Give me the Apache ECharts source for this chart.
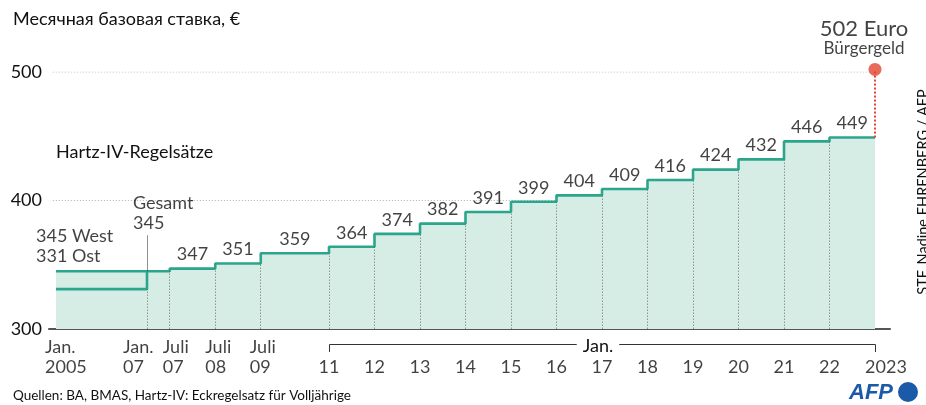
<!DOCTYPE html>
<html><head><meta charset="utf-8">
<script src="https://cdn.jsdelivr.net/npm/echarts@6/dist/echarts.min.js"></script>
<style>html,body{margin:0;padding:0;background:#fff}#c{width:926px;height:405px}</style>
</head><body><div id="c"></div>
<script>
// ---------- data ----------
const stepMonths = ['2005-01','2007-01','2007-07','2008-07','2009-07','2011-01','2012-01','2013-01','2014-01','2015-01','2016-01','2017-01','2018-01','2019-01','2020-01','2021-01','2022-01'];
const rates = [345,345,347,351,359,364,374,382,391,399,404,409,416,424,432,446,449];
const endMonth = '2023-01';
const ostStartMonth = '2005-01';
const ostRate = 331;
const buergergeldMonth = '2023-01';
const buergergeld = 502;
const periodTicks = ['2005-01','2007-01','2007-07','2008-07','2009-07'];
const periodLabels = ['Jan.\n2005','Jan.\n07','Juli\n07','Juli\n08','Juli\n09'];
const yearTicks = ['2011-01','2012-01','2013-01','2014-01','2015-01','2016-01','2017-01','2018-01','2019-01','2020-01','2021-01','2022-01','2023-01'];
const yearLabels = ['11','12','13','14','15','16','17','18','19','20','21','22','2023'];
const yTicks = [300, 400, 500];
const firstLabel = '345 West\n331 Ost';
const gesamtLabel = 'Gesamt\n345';
const bgLabel = ['502 Euro', 'Bürgergeld'];

// ---------- style ----------
const FONT = 'Lato, "Noto Sans", sans-serif';
const TXT = '#111';
const LINE = '#2ba58b';
const FILL = '#d6ede6';
const GRIDC = '#9fb6c6';
const RED = '#e2452f';
const X_MIN = 2004.8462, X_MAX = 2023.3297;
const GRID_START = 2004.93;
const LEADER_TOP = 373;
const periodShift = [-11, -24, -7, -10, -11];

const toYear = s => { const [y, m] = s.split('-').map(Number); return y + (m - 1) / 12; };
const xs = stepMonths.map(toYear);
const xEnd = toYear(endMonth);
const xBound = xs.concat([xEnd]);
const yMin = yTicks[0], yMax = yTicks[yTicks.length - 1];

const mainData = xs.map((x, i) => [x, rates[i]]).concat([[xEnd, rates[rates.length - 1]]]);
const ostData = [[toYear(ostStartMonth), ostRate], [xs[1], rates[1]]];

const dotStyle = { color: '#444', width: 1, type: [1.5, 1.5] };
const vLines = [];
for (let i = 1; i < xs.length; i++) {
  let low = Math.min(rates[i - 1], rates[i]);
  if (i === 1) low = Math.min(low, ostRate);
  vLines.push([{ coord: [xs[i], yMin], lineStyle: dotStyle }, { coord: [xs[i], low] }]);
}
vLines.push([{ coord: [xs[1], rates[1]], lineStyle: { color: '#222', width: 1, type: 'solid' } }, { coord: [xs[1], LEADER_TOP] }]);

const valueLabelData = [];
for (let i = 2; i < xs.length; i++) {
  valueLabelData.push({ value: [(xBound[i] + xBound[i + 1]) / 2, rates[i]], name: String(rates[i]) });
}

const xLabelData = [];
periodTicks.forEach((t, i) => xLabelData.push({
  value: [toYear(t), yMin],
  label: { formatter: periodLabels[i], align: 'left', offset: [periodShift[i], 0] }
}));
yearTicks.forEach((t, i) => xLabelData.push({
  value: [toYear(t), yMin],
  label: { formatter: '\n' + yearLabels[i], align: 'center', offset: [i === yearTicks.length - 1 ? 11 : 0, 0] }
}));

const FS = 18;
const txt = { color: TXT, fontFamily: FONT, fontSize: FS };

const chart = echarts.init(document.getElementById('c'), null, { renderer: 'canvas' });
const option = {
  animation: false,
  backgroundColor: '#fff',
  grid: { left: 49, right: 36, top: 72, bottom: 76, containLabel: false, outerBoundsMode: 'none' },
  xAxis: {
    type: 'value', min: X_MIN, max: X_MAX,
    axisLine: { show: true, onZero: false, lineStyle: { color: '#555', width: 2 } },
    axisTick: { show: false }, axisLabel: { show: false }, splitLine: { show: false }
  },
  yAxis: {
    type: 'value', min: yMin, max: yMax, interval: 100,
    axisLine: { show: false }, axisTick: { show: false }, splitLine: { show: false },
    axisLabel: { color: TXT, fontFamily: FONT, fontSize: FS, margin: 7 }
  },
  series: [
    ...yTicks.slice(1).map(v => ({
      type: 'line', z: 1, silent: true, symbol: 'none',
      data: [[GRID_START, v], [xEnd, v]],
      lineStyle: { color: GRIDC, width: 1, type: [1, 2] }
    })),
    {
      type: 'line', z: 3, step: 'end', symbol: 'none', silent: true,
      data: mainData,
      lineStyle: { color: LINE, width: 2.6 },
      areaStyle: { color: FILL, opacity: 1, origin: 'start' }
    },
    {
      type: 'line', z: 4, symbol: 'none', silent: true, step: 'end',
      data: ostData,
      lineStyle: { color: LINE, width: 2.6 }
    },
    // dotted drop lines and leader (own series so they sit above the area)
    {
      type: 'lines', z: 5, silent: true, coordinateSystem: 'cartesian2d',
      data: vLines.map(l => ({ coords: [l[0].coord, l[1].coord], lineStyle: l[0].lineStyle }))
    },
    // red connector
    {
      type: 'lines', z: 5, silent: true, coordinateSystem: 'cartesian2d',
      data: [{ coords: [[xEnd, rates[rates.length - 1]], [toYear(buergergeldMonth), buergergeld]] }],
      lineStyle: { color: RED, width: 2, type: [2, 2], opacity: 1 }
    },
    {
      type: 'scatter', z: 6, silent: true, clip: false,
      symbolSize: 13, itemStyle: { color: RED },
      data: [[toYear(buergergeldMonth), buergergeld]],
      label: {
        show: true, position: 'top', distance: 5, offset: [-11, 0], align: 'center',
        formatter: '{a|' + bgLabel[0] + '}\n{b|' + bgLabel[1] + '}',
        rich: {
          a: { fontFamily: FONT, fontSize: 22, color: TXT, lineHeight: 22, align: 'center' },
          b: { fontFamily: FONT, fontSize: 17, color: TXT, lineHeight: 18, align: 'center' }
        }
      }
    },
    {
      type: 'scatter', z: 5, silent: true, clip: false, symbolSize: 0,
      itemStyle: { color: 'transparent' },
      data: valueLabelData,
      label: Object.assign({ show: true, position: 'top', distance: 4, lineHeight: 20, formatter: p => p.name }, txt)
    },
    {
      type: 'scatter', z: 5, silent: true, clip: false, symbolSize: 0,
      itemStyle: { color: 'transparent' },
      data: [
        { value: [xs[0], rates[0]], label: { formatter: firstLabel, offset: [-20, 0], distance: 5 } },
        { value: [xs[1], LEADER_TOP], label: { formatter: gesamtLabel, offset: [-14, 0], distance: 2 } }
      ],
      label: Object.assign({ show: true, position: 'top', align: 'left', lineHeight: 20 }, txt)
    },
    {
      type: 'scatter', z: 5, silent: true, clip: false, symbolSize: 0,
      itemStyle: { color: 'transparent' },
      data: xLabelData,
      label: Object.assign({ show: true, position: 'bottom', distance: 8, lineHeight: 20 }, txt)
    }
  ]
};
chart.setOption(option);

const base = chart.convertToPixel({ gridIndex: 0 }, [toYear(yearTicks[0]), yMin]);
const bEnd = chart.convertToPixel({ gridIndex: 0 }, [toYear(yearTicks[yearTicks.length - 1]), yMin]);
const bMid = (base[0] + bEnd[0]) / 2;
const by = base[1] + 15;
chart.setOption({
  graphic: [
    { type: 'polyline', silent: true, shape: { points: [[base[0] + 0.5, by + 8], [base[0] + 0.5, by + 0.5], [bEnd[0] + 0.5, by + 0.5], [bEnd[0] + 0.5, by + 8]] },
      style: { stroke: '#333', lineWidth: 1, fill: null } },
    { type: 'text', silent: true, x: bMid - 4, y: by + 2, style: { text: 'Jan.', align: 'center', verticalAlign: 'middle',
      font: FS + 'px ' + FONT, fill: TXT, backgroundColor: '#fff', padding: [0, 6] } },
    { type: 'text', silent: true, x: 13, y: 19, style: { text: 'Месячная базовая ставка, €', verticalAlign: 'middle', font: FS + 'px ' + FONT, fill: TXT } },
    { type: 'text', silent: true, x: 56, y: 152, style: { text: 'Hartz-IV-Regelsätze', verticalAlign: 'middle', font: FS + 'px ' + FONT, fill: TXT } },
    { type: 'text', silent: true, x: 13, y: 396, style: { text: 'Quellen: BA, BMAS, Hartz-IV: Eckregelsatz für Volljährige', verticalAlign: 'middle', font: '13.5px ' + FONT, fill: TXT } },
    { type: 'text', silent: true, x: 923, y: 192, rotation: Math.PI / 2, style: { text: 'STF, Nadine EHRENBERG / AFP', align: 'center', verticalAlign: 'middle', font: '14.5px ' + FONT, fill: TXT } },
    { type: 'text', silent: true, x: 849, y: 393, style: { text: 'AFP', verticalAlign: 'middle', font: 'italic bold 22px "Liberation Sans", sans-serif', fill: '#1a5aa8' } },
    { type: 'circle', silent: true, shape: { cx: 908, cy: 392, r: 10 }, style: { fill: '#1a5aa8' } }
  ]
});
</script>
</body></html>
